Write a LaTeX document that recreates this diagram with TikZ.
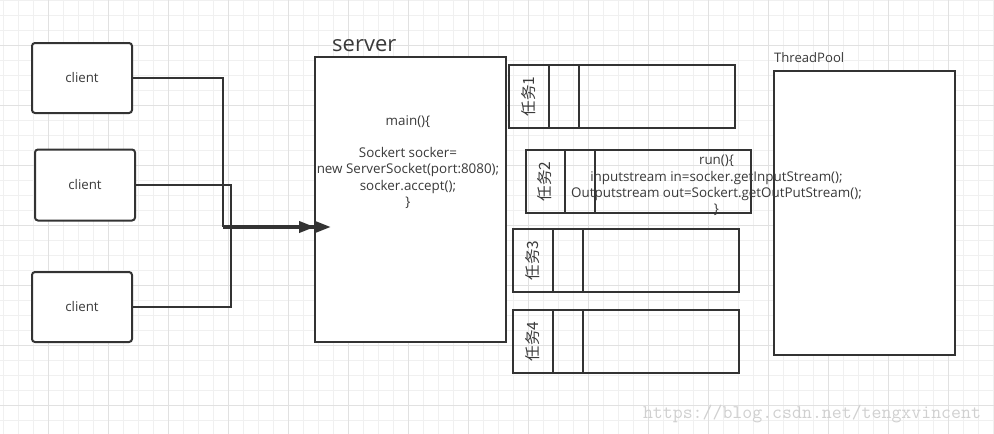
\documentclass[tikz,border=0pt]{standalone}
\usepackage{fontspec}
\setmainfont{Open Sans}
\newfontfamily\cjk{Noto Sans CJK SC}
\usetikzlibrary{arrows.meta}
\definecolor{ink}{HTML}{333333}
\definecolor{txt}{HTML}{3A3A3A}
\definecolor{gminor}{HTML}{F0F0F0}
\definecolor{gmajor}{HTML}{E1E1E1}
\definecolor{wmc}{HTML}{D0D0D0}
\begin{document}
\begin{tikzpicture}[x=1pt,y=-1pt,
  box/.style={draw=ink,line width=2pt,inner sep=0pt},
  clientbox/.style={box,fill=white,rounded corners=3pt,minimum width=100pt,minimum height=70pt,text=txt,font=\fontsize{13.3}{15}\selectfont},
  bigbox/.style={box,fill=white},
  taskbox/.style={box,minimum width=226pt,minimum height=63pt},
  tasklabel/.style={rotate=90,inner sep=0pt,text=txt,font=\cjk\fontsize{15.5}{15.5}\selectfont},
  code/.style={align=center,inner sep=0pt,text=txt,font=\fontsize{13.4}{16.2}\selectfont},
  conn/.style={draw=ink,line width=1.8pt},
  trunk/.style={draw=ink,line width=3.6pt,-{Triangle[length=16pt,width=11pt]Triangle[length=16pt,width=11pt]}}
]
\useasboundingbox (0,0) rectangle (994,434);
\fill[white] (0,0) rectangle (994,434);
% grid
\foreach \x in {3,18,...,993} \draw[gminor,line width=1pt] (\x,0) -- (\x,434);
\foreach \y in {0,15,...,434} \draw[gminor,line width=1pt] (0,\y) -- (994,\y);
\foreach \x in {48,108,...,993} \draw[gmajor,line width=1pt] (\x,0) -- (\x,434);
\foreach \y in {45,105,...,434} \draw[gmajor,line width=1pt] (0,\y) -- (994,\y);

% clients
\node[clientbox] (c1) at (82,78) {client};
\node[clientbox,minimum height=71pt] (c2) at (85,185) {client};
\node[clientbox] (c3) at (82,307) {client};

% server
\node[bigbox,minimum width=191pt,minimum height=285pt] (srv) at (410.5,199.5) {};
\node[anchor=west,inner sep=0pt,text=txt,font=\fontsize{22}{22}\selectfont] (srvlbl) at (332,46) {server};
\node[code] (srvcode) at (408,162) {main()\{\\\strut\\Sockert socker=\\new ServerSocket(port:8080);\\socker.accept();\\\}};

% thread pool
\node[bigbox,minimum width=181pt,minimum height=284pt] (pool) at (864.5,213) {};
\node[anchor=west,inner sep=0pt,text=txt,font=\fontsize{13.1}{13}\selectfont] (poollbl) at (774,58) {ThreadPool};

% tasks
\node[taskbox] (t1) at (622,96.5) {};
\node[taskbox,minimum width=225pt] (t2) at (638.5,181.5) {};
\node[taskbox] (t3) at (626,260.5) {};
\node[taskbox] (t4) at (626,341.5) {};
\foreach \t/\a/\b in {t1/41/71,t2/40/70,t3/41/71,t4/41/71}{
  \draw[box] ([xshift=\a pt]\t.north west) -- ([xshift=\a pt]\t.south west);
  \draw[box] ([xshift=\b pt]\t.north west) -- ([xshift=\b pt]\t.south west);
}
\node[tasklabel] (l1) at ([xshift=21pt]t1.west) {任务1};
\node[tasklabel] (l2) at ([xshift=20pt]t2.west) {任务2};
\node[tasklabel] (l3) at ([xshift=21pt]t3.west) {任务3};
\node[tasklabel] (l4) at ([xshift=21pt]t4.west) {任务4};
\node[code] (runcode) at (716.5,185.5) {run()\{\\inputstream in=socker.getInputStream();\\Outputstream out=Sockert.getOutPutStream();\\\}};

% connectors
\coordinate (j1) at (223,227);
\coordinate (j2) at (231,227);
\coordinate (tip) at (331,227);
\draw[conn] (c1.east) -| (j1);
\draw[conn] (c2.east) -| (j2);
\draw[conn] (c3.east) -| (j2);
\draw[trunk] (j1) -- (tip);

% watermark
\node[inner sep=0pt,text=wmc,font=\ttfamily\fontsize{19.3}{19.3}\selectfont] (wm) at (812,414) {https://blog.csdn.net/tengxvincent};
\end{tikzpicture}
\end{document}
